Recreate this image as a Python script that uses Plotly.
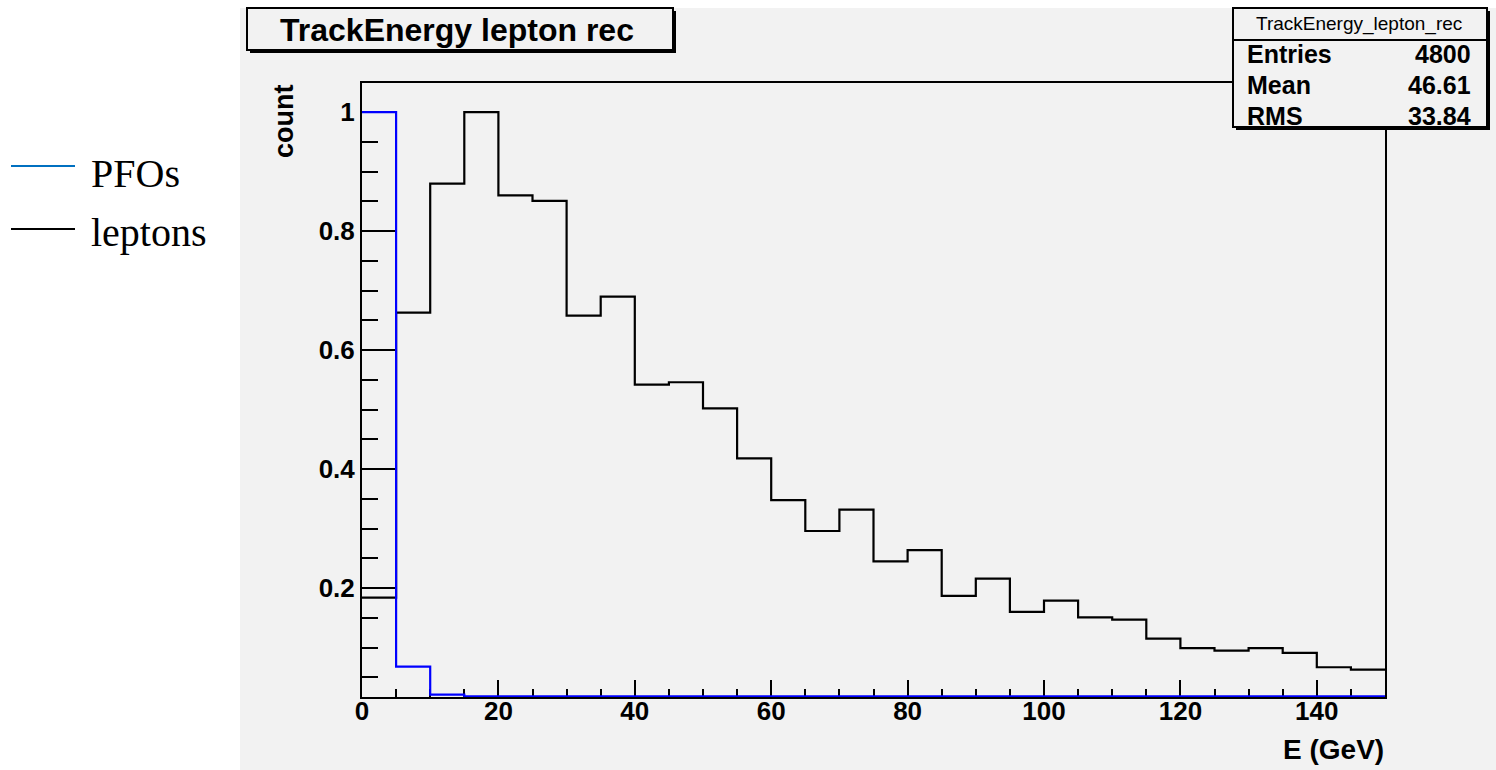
import plotly.graph_objects as go

W, H = 1496, 770
PL, PR, PT, PB = 362, 1385, 83, 697  # plot area in pixels

# ---- data ----
bin_edges = [0, 5, 10, 15, 20, 25, 30, 35, 40, 45, 50, 55, 60, 65, 70, 75, 80, 85, 90, 95,
             100, 105, 110, 115, 120, 125, 130, 135, 140, 145, 150]
leptons = [0.184, 0.663, 0.880, 1.000, 0.860, 0.851, 0.658, 0.690, 0.542, 0.546,
           0.502, 0.418, 0.348, 0.296, 0.332, 0.245, 0.264, 0.187, 0.216, 0.160,
           0.179, 0.151, 0.147, 0.115, 0.099, 0.095, 0.099, 0.091, 0.067, 0.063]
pfos = [1.000, 0.068, 0.021, 0.018, 0.018, 0.018, 0.018, 0.018, 0.018, 0.018,
        0.018, 0.018, 0.018, 0.018, 0.018, 0.018, 0.018, 0.018, 0.018, 0.018,
        0.018, 0.018, 0.018, 0.018, 0.018, 0.018, 0.018, 0.018, 0.018, 0.018]
series_names = ["PFOs", "leptons"]
stats_labels = ["Entries", "Mean", "RMS"]
stats_values = ["4800", "46.61", "33.84"]
hist_name = "TrackEnergy_lepton_rec"
title_text = "TrackEnergy lepton rec"
x_title = "E (GeV)"
y_title = "count"

BG = "#f2f2f2"
SANS = "Liberation Sans, Arial, Helvetica, sans-serif"
SERIF = "Liberation Serif, Times New Roman, serif"


def fx(px):
    return (px - PL) / (PR - PL)


def fy(py):
    return (PB - py) / (PB - PT)


fig = go.Figure()
fig.add_trace(go.Scatter(x=bin_edges, y=leptons + [leptons[-1]], mode="lines",
                         line=dict(shape="hv", color="black", width=2.2),
                         name=series_names[1], showlegend=False))
fig.add_trace(go.Scatter(x=bin_edges, y=pfos + [pfos[-1]], mode="lines",
                         line=dict(shape="hv", color="#0000ff", width=2.2),
                         name=series_names[0], showlegend=False))

shapes = []
# grey canvas
shapes.append(dict(type="rect", xref="paper", yref="paper", x0=fx(240), x1=fx(W),
                   y0=fy(H), y1=fy(8), fillcolor=BG, line=dict(width=0), layer="below"))
# title box with shadow
shapes.append(dict(type="rect", xref="paper", yref="paper", x0=fx(250), x1=fx(676),
                   y0=fy(53), y1=fy(11), fillcolor="black", line=dict(width=0), layer="above"))
shapes.append(dict(type="rect", xref="paper", yref="paper", x0=fx(247), x1=fx(673),
                   y0=fy(50), y1=fy(8), fillcolor=BG, line=dict(color="black", width=2), layer="above"))
# stats box with shadow
shapes.append(dict(type="rect", xref="paper", yref="paper", x0=fx(1236), x1=fx(1490),
                   y0=fy(130), y1=fy(11), fillcolor="black", line=dict(width=0), layer="above"))
shapes.append(dict(type="rect", xref="paper", yref="paper", x0=fx(1233), x1=fx(1487),
                   y0=fy(127), y1=fy(8), fillcolor=BG, line=dict(color="black", width=2), layer="above"))
shapes.append(dict(type="line", xref="paper", yref="paper", x0=fx(1233), x1=fx(1487),
                   y0=fy(40), y1=fy(40), line=dict(color="black", width=2), layer="above"))
# legend lines
shapes.append(dict(type="line", xref="paper", yref="paper", x0=fx(11), x1=fx(75),
                   y0=fy(166), y1=fy(166), line=dict(color="#0070c0", width=2)))
shapes.append(dict(type="line", xref="paper", yref="paper", x0=fx(11), x1=fx(75),
                   y0=fy(229), y1=fy(229), line=dict(color="black", width=2)))

annotations = []
annotations.append(dict(text=title_text, xref="paper", yref="paper", x=fx(457), y=fy(30),
                        xanchor="center", yanchor="middle", showarrow=False,
                        font=dict(family=SANS, size=32, color="black", weight="bold")))
annotations.append(dict(text=hist_name, xref="paper", yref="paper", x=fx(1359), y=fy(24),
                        xanchor="center", yanchor="middle", showarrow=False,
                        font=dict(family=SANS, size=19, color="black")))
for lab, val, yy in zip(stats_labels, stats_values, [54, 85, 116]):
    annotations.append(dict(text=lab, xref="paper", yref="paper", x=fx(1245), y=fy(yy),
                            xanchor="left", yanchor="middle", showarrow=False,
                            font=dict(family=SANS, size=25, color="black", weight="bold")))
    annotations.append(dict(text=val, xref="paper", yref="paper", x=fx(1473), y=fy(yy),
                            xanchor="right", yanchor="middle", showarrow=False,
                            font=dict(family=SANS, size=25, color="black", weight="bold")))
annotations.append(dict(text=y_title, xref="paper", yref="paper", x=fx(284), y=fy(121),
                        xanchor="center", yanchor="middle", showarrow=False, textangle=-90,
                        font=dict(family=SANS, size=27, color="black", weight="bold")))
annotations.append(dict(text=x_title, xref="paper", yref="paper", x=fx(1386), y=fy(749),
                        xanchor="right", yanchor="middle", showarrow=False,
                        font=dict(family=SANS, size=28, color="black", weight="bold")))
annotations.append(dict(text=series_names[0], xref="paper", yref="paper", x=fx(89), y=fy(174),
                        xanchor="left", yanchor="middle", showarrow=False,
                        font=dict(family=SERIF, size=40, color="black")))
annotations.append(dict(text=series_names[1], xref="paper", yref="paper", x=fx(89), y=fy(232),
                        xanchor="left", yanchor="middle", showarrow=False,
                        font=dict(family=SERIF, size=40, color="black")))

fig.update_layout(
    width=W, height=H,
    margin=dict(l=PL, r=W - PR, t=PT, b=H - PB, autoexpand=False),
    paper_bgcolor="white", plot_bgcolor=BG,
    showlegend=False,
    shapes=shapes, annotations=annotations,
    xaxis=dict(range=[0, 150], tick0=0, dtick=20, ticks="inside", ticklen=17, tickwidth=2,
               tickcolor="black", showline=True, linecolor="black", linewidth=2, mirror=True,
               showgrid=False, zeroline=False, layer="below traces", ticklabelstandoff=-10,
               tickfont=dict(family=SANS, size=26, color="black", weight="bold"),
               minor=dict(dtick=5, tick0=0, ticks="inside", ticklen=8, tickwidth=2,
                          tickcolor="black", showgrid=False)),
    yaxis=dict(range=[0.017, 1.049], tick0=0, dtick=0.2, ticks="inside", ticklen=33, tickwidth=2,
               tickcolor="black", showline=True, linecolor="black", linewidth=2, mirror=True,
               showgrid=False, zeroline=False, layer="below traces",
               tickfont=dict(family=SANS, size=26, color="black", weight="bold"),
               minor=dict(dtick=0.05, tick0=0, ticks="inside", ticklen=16, tickwidth=2,
                          tickcolor="black", showgrid=False)),
)

fig.write_html("out.html")
